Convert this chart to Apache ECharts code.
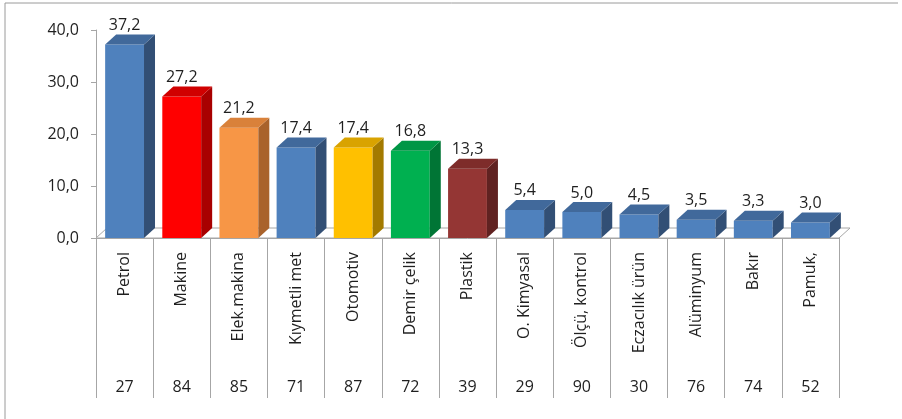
<!DOCTYPE html>
<html>
<head>
<meta charset="utf-8">
<script src="https://cdn.jsdelivr.net/npm/echarts@6/dist/echarts.min.js"></script>
<style>
  html, body { margin: 0; padding: 0; background: #fff; }
  #chart { width: 902px; height: 419px; }
</style>
</head>
<body>
<div id="chart"></div>
<script>
// sektör adları, değerler ve alt satırdaki kodlar
var sectors = ['Petrol', 'Makine', 'Elek.makina', 'Kıymetli met', 'Otomotiv', 'Demir çelik', 'Plastik',
  'O. Kimyasal', 'Ölçü, kontrol', 'Eczacılık ürün', 'Alüminyum', 'Bakır', 'Pamuk,']
var values = [37.2, 27.2, 21.2, 17.4, 17.4, 16.8, 13.3, 5.4, 5.0, 4.5, 3.5, 3.3, 3.0]
var codes = ['27', '84', '85', '71', '87', '72', '39', '29', '90', '30', '76', '74', '52']
var yTicks = [0, 10, 20, 30, 40]

// her çubuk için renk: ön yüz, üst yüz, yan yüz
var blue = ['#4F81BD', '#41699B', '#324F75']
var palette = [
  blue,
  ['#FF0000', '#D00000', '#A80000'],
  ['#F79646', '#D9813A', '#A9622B'],
  blue,
  ['#FFC000', '#D9A300', '#A37A00'],
  ['#00B050', '#009645', '#007535'],
  ['#943634', '#7E2C2A', '#602221'],
  blue, blue, blue, blue, blue, blue
]

var textColor = '#1f1f1f'
var lineColor = '#A6A6A6'
var fontFamily = '"Open Sans", sans-serif'
var depthX = 11
var depthY = 10

function fmt(v) {
  return v.toFixed(1).replace('.', ',')
}

var chart = echarts.init(document.getElementById('chart'))
chart.setOption({
  animation: false,
  textStyle: { fontFamily: fontFamily },
  graphic: [
    { type: 'line', shape: { x1: 5, y1: 3, x2: 898, y2: 3 }, style: { stroke: '#9a9a9a', lineWidth: 1 } },
    { type: 'line', shape: { x1: 5, y1: 3, x2: 5, y2: 419 }, style: { stroke: '#9a9a9a', lineWidth: 1 } }
  ],
  grid: {
    left: 96,
    right: 63,
    top: 30,
    bottom: 181
  },
  xAxis: [
    {
      type: 'category',
      data: sectors,
      axisLine: { show: true, lineStyle: { color: lineColor } },
      axisTick: { show: true, interval: 0, alignWithLabel: false, length: 160, lineStyle: { color: lineColor, width: 1 } },
      axisLabel: {
        interval: 0,
        rotate: 90,
        margin: 14,
        fontSize: 16,
        color: textColor,
        fontFamily: fontFamily
      }
    },
    {
      type: 'category',
      data: codes,
      position: 'bottom',
      axisLine: { show: false },
      axisTick: { show: false },
      axisLabel: {
        interval: 0,
        margin: 141,
        fontSize: 16,
        color: textColor,
        fontFamily: fontFamily
      }
    }
  ],
  yAxis: {
    type: 'value',
    min: yTicks[0],
    max: yTicks[yTicks.length - 1],
    interval: 10,
    axisLine: { show: true, lineStyle: { color: lineColor } },
    axisTick: { show: true, length: 5, lineStyle: { color: lineColor } },
    splitLine: { show: false },
    axisLabel: {
      margin: 17,
      fontSize: 16,
      color: textColor,
      fontFamily: fontFamily,
      formatter: function(v) { return fmt(v) }
    }
  },
  series: [
    {
      // zemin
      type: 'custom',
      xAxisIndex: 0,
      silent: true,
      z: 1,
      data: [[0, 0]],
      renderItem: function(params, api) {
        var cs = params.coordSys
        var y0 = api.coord([0, 0])[1]
        var xl = cs.x
        var xr = cs.x + cs.width
        return {
          type: 'polygon',
          shape: { points: [[xl, y0], [xr, y0], [xr + depthX, y0 - depthY], [xl + depthX, y0 - depthY]] },
          style: { fill: '#fff', stroke: lineColor, lineWidth: 1 }
        }
      }
    },
    {
      type: 'custom',
      xAxisIndex: 0,
      z: 2,
      data: values.map(function(v, i) { return [i, v] }),
      encode: { x: 0, y: 1 },
      renderItem: function(params, api) {
        var i = api.value(0)
        var v = api.value(1)
        var top = api.coord([i, v])
        var base = api.coord([i, 0])
        var w = api.size([1, 0])[0] * 0.68
        var x0 = top[0] - w / 2
        var x1 = top[0] + w / 2
        var c = palette[i]
        return {
          type: 'group',
          children: [
            {
              type: 'rect',
              shape: { x: x0, y: top[1], width: w, height: base[1] - top[1] },
              style: { fill: c[0] }
            },
            {
              type: 'polygon',
              shape: { points: [[x1, top[1]], [x1 + depthX, top[1] - depthY], [x1 + depthX, base[1] - depthY], [x1, base[1]]] },
              style: { fill: c[2] }
            },
            {
              type: 'polygon',
              shape: { points: [[x0, top[1]], [x1, top[1]], [x1 + depthX, top[1] - depthY], [x0 + depthX, top[1] - depthY]] },
              style: { fill: c[1] }
            },
            {
              type: 'text',
              style: {
                text: fmt(v),
                x: top[0],
                y: top[1] - depthY - 1,
                align: 'center',
                verticalAlign: 'bottom',
                fill: textColor,
                font: '16px ' + fontFamily
              }
            }
          ]
        }
      }
    }
  ]
})
</script>
</body>
</html>
